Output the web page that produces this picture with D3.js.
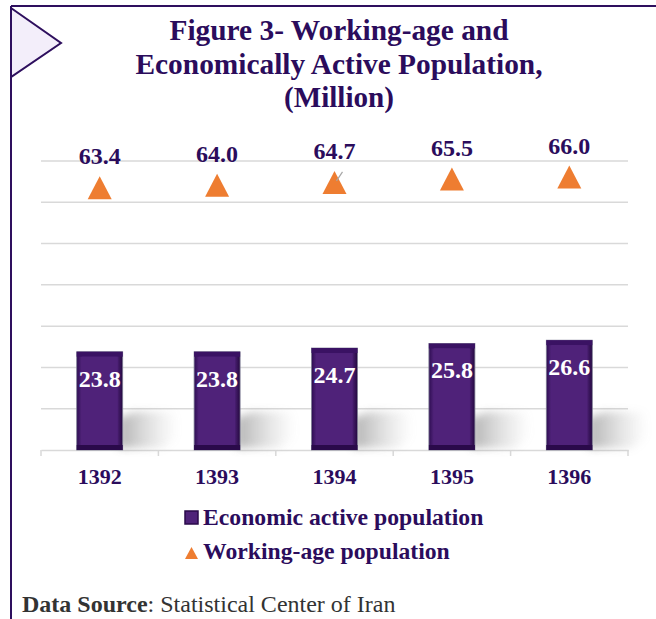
<!DOCTYPE html>
<html>
<head>
<meta charset="utf-8">
<script src="https://cdn.jsdelivr.net/npm/d3@7"></script>
<style>
  body { margin: 0; background: #fff; }
  #chart { width: 656px; height: 619px; }
</style>
</head>
<body>
<div id="chart"></div>
<script>
// data
const years = ["1392", "1393", "1394", "1395", "1396"];
const activePop = [23.8, 23.8, 24.7, 25.8, 26.6];
const workingAgePop = [63.4, 64.0, 64.7, 65.5, 66.0];
const yTicks = [0, 10, 20, 30, 40, 50, 60, 70];
const titleLines = ["Figure 3- Working-age and", "Economically Active Population,", "(Million)"];
const legendNames = ["Economic active population", "Working-age population"];

const purpleText = "#2b0c5c";
const barColor = "#4f2279";
const orange = "#ee7d31";
const serif = "Liberation Serif, Times New Roman, Times, DejaVu Serif, serif";

const width = 656;
const height = 619;
const marginLeft = 41;
const marginRight = 28;
const axisY = 450;
const topY = 161;

const svg = d3.select("#chart")
  .append("svg")
  .attr("width", width)
  .attr("height", height)
  .style("font-family", serif);

const defs = svg.append("defs");

// bevel gradient for the bars
const gradH = defs.append("linearGradient").attr("id", "barH");
gradH.append("stop").attr("offset", "0%").attr("stop-color", "#2e0d52");
gradH.append("stop").attr("offset", "14%").attr("stop-color", "#5a2a86");
gradH.append("stop").attr("offset", "86%").attr("stop-color", "#52247d");
gradH.append("stop").attr("offset", "100%").attr("stop-color", "#24083f");

const shadowGrad = defs.append("linearGradient").attr("id", "shadowG");
shadowGrad.append("stop").attr("offset", "0%").attr("stop-color", "#8c8c8c").attr("stop-opacity", 0.9);
shadowGrad.append("stop").attr("offset", "100%").attr("stop-color", "#bfbfbf").attr("stop-opacity", 0);

const blur = defs.append("filter").attr("id", "blur")
  .attr("x", "-50%").attr("y", "-50%").attr("width", "200%").attr("height", "200%");
blur.append("feGaussianBlur").attr("stdDeviation", 4);

// frame
svg.append("line").attr("x1", 11).attr("y1", 6).attr("x2", width).attr("y2", 6)
  .attr("stroke", "#2e0f5e").attr("stroke-width", 2);
svg.append("line").attr("x1", 11).attr("y1", 6).attr("x2", 11).attr("y2", height)
  .attr("stroke", "#2e0f5e").attr("stroke-width", 2);
svg.append("path")
  .attr("d", "M11,8 L61,43 L11,77 Z")
  .attr("fill", "#f3eefa")
  .attr("stroke", "#2e0f5e")
  .attr("stroke-width", 2);

// title
const titleWidths = [339, 407, 110];
const titleY = [40, 74, 107];
svg.append("g")
  .selectAll("text")
  .data(titleLines)
  .join("text")
  .attr("x", 339)
  .attr("y", (d, i) => titleY[i])
  .attr("text-anchor", "middle")
  .attr("font-weight", "bold")
  .attr("font-size", 29)
  .attr("fill", purpleText)
  .attr("textLength", (d, i) => titleWidths[i])
  .attr("lengthAdjust", "spacingAndGlyphs")
  .text((d) => d);

// scales
const xScale = d3.scaleBand()
  .domain(years)
  .range([marginLeft, width - marginRight]);

const yScale = d3.scaleLinear()
  .domain([0, 70])
  .range([axisY, topY]);

// gridlines
svg.append("g")
  .selectAll("line")
  .data(yTicks.slice(1))
  .join("line")
  .attr("x1", marginLeft)
  .attr("x2", width - marginRight)
  .attr("y1", (d) => yScale(d))
  .attr("y2", (d) => yScale(d))
  .attr("stroke", "#d9d9d9")
  .attr("stroke-width", 1.5);

// x axis
const xAxis = d3.axisBottom(xScale).tickSize(0).tickPadding(18);
const gx = svg.append("g")
  .attr("transform", `translate(0, ${axisY})`)
  .call(xAxis);
gx.select(".domain").attr("stroke", "#d9d9d9").attr("stroke-width", 1.5);
gx.selectAll(".tick text")
  .attr("font-family", serif)
  .attr("font-weight", "bold")
  .attr("font-size", 22)
  .attr("fill", purpleText);
// category separators
svg.append("g")
  .selectAll("line")
  .data(years.concat(["end"]))
  .join("line")
  .attr("x1", (d, i) => marginLeft + i * xScale.step())
  .attr("x2", (d, i) => marginLeft + i * xScale.step())
  .attr("y1", axisY)
  .attr("y2", axisY + 6)
  .attr("stroke", "#d9d9d9")
  .attr("stroke-width", 1.5);

const barW = 46;
const barX = (i) => xScale(years[i]) + xScale.bandwidth() / 2 - barW / 2;

// bar shadows (floor reflection to the right)
svg.append("g")
  .selectAll("path")
  .data(activePop)
  .join("path")
  .attr("transform", (d, i) => `translate(${barX(i) + barW}, ${axisY})`)
  .attr("d", "M-4,-2 L-4,-32 L12,-38 L52,-38 L56,-14 L40,-2 Z")
  .attr("fill", "url(#shadowG)")
  .attr("opacity", 0.75)
  .attr("filter", "url(#blur)");

// bars
const bars = svg.append("g")
  .selectAll("g")
  .data(activePop)
  .join("g")
  .attr("transform", (d, i) => `translate(${barX(i)}, ${yScale(d)})`);

bars.append("rect")
  .attr("width", barW)
  .attr("height", (d) => yScale(0) - yScale(d))
  .attr("fill", "url(#barH)")
  .attr("stroke", "#7f7f95")
  .attr("stroke-width", 0.8);
bars.append("rect")
  .attr("width", barW)
  .attr("height", 5)
  .attr("fill", "#3a1263");
bars.append("rect")
  .attr("y", (d) => yScale(0) - yScale(d) - 5)
  .attr("width", barW)
  .attr("height", 5)
  .attr("fill", "#2a0a4a");
bars.append("rect")
  .attr("x", 5)
  .attr("y", 5)
  .attr("width", barW - 10)
  .attr("height", (d) => yScale(0) - yScale(d) - 10)
  .attr("fill", barColor);

// bar labels
bars.append("text")
  .attr("x", barW / 2)
  .attr("y", 35)
  .attr("text-anchor", "middle")
  .attr("font-weight", "bold")
  .attr("font-size", 24)
  .attr("fill", "#fff")
  .text((d) => d.toFixed(1));

// triangles
const tri = 12;
svg.append("g")
  .selectAll("path")
  .data(workingAgePop)
  .join("path")
  .attr("transform", (d, i) => `translate(${xScale(years[i]) + xScale.bandwidth() / 2}, ${yScale(d)})`)
  .attr("d", `M0,${-tri} L${tri},${tri - 1} L${-tri},${tri - 1} Z`)
  .attr("fill", orange);

// small leader line for 1394
const i3 = 2;
svg.append("line")
  .attr("x1", xScale(years[i3]) + xScale.bandwidth() / 2 + 2)
  .attr("y1", yScale(workingAgePop[i3]) - 2)
  .attr("x2", xScale(years[i3]) + xScale.bandwidth() / 2 + 8)
  .attr("y2", yScale(workingAgePop[i3]) - 11)
  .attr("stroke", "#a6a6a6")
  .attr("stroke-width", 1.2);

// triangle labels
svg.append("g")
  .selectAll("text")
  .data(workingAgePop)
  .join("text")
  .attr("x", (d, i) => xScale(years[i]) + xScale.bandwidth() / 2)
  .attr("y", (d) => yScale(d) - 24)
  .attr("text-anchor", "middle")
  .attr("font-weight", "bold")
  .attr("font-size", 24)
  .attr("fill", purpleText)
  .text((d) => d.toFixed(1));

// legend
const legend = svg.append("g").attr("transform", "translate(185, 0)");
legend.append("rect")
  .attr("x", 0).attr("y", 511).attr("width", 13).attr("height", 13)
  .attr("fill", barColor).attr("stroke", "#2a0a4a").attr("stroke-width", 1.5);
legend.append("path")
  .attr("d", "M6.5,547 L13,559 L0,559 Z")
  .attr("fill", orange);
legend.selectAll("text")
  .data(legendNames)
  .join("text")
  .attr("x", 18)
  .attr("y", (d, i) => 525 + i * 34)
  .attr("font-weight", "bold")
  .attr("font-size", 23.7)
  .attr("fill", purpleText)
  .text((d) => d);

// source
const src = svg.append("text")
  .attr("x", 22)
  .attr("y", 612)
  .attr("font-size", 24)
  .attr("fill", "#333");
src.append("tspan").attr("font-weight", "bold").text("Data Source");
src.append("tspan").text(": Statistical Center of Iran");
</script>
</body>
</html>
